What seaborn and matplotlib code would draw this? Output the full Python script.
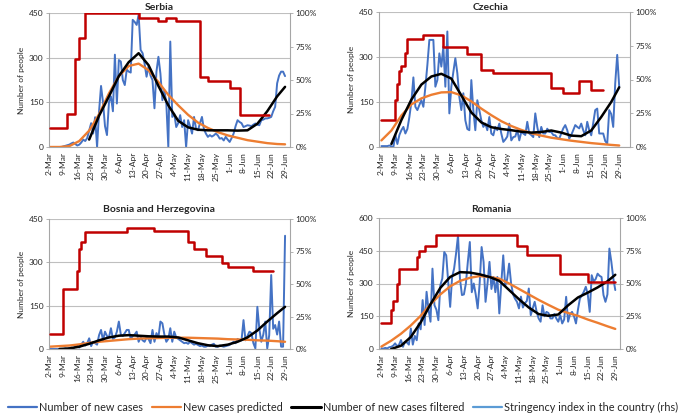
import numpy as np
import pandas as pd
import seaborn as sns
import matplotlib.pyplot as plt
from matplotlib.lines import Line2D
from matplotlib.ticker import FuncFormatter

sns.set_style("white")
plt.rcParams['font.family'] = ['Lato', 'DejaVu Sans']

nan = np.nan

# daily axis: 2-Mar .. 29-Jun 2020 (120 days)
days = list(range(120))
week_ticks = list(range(0, 120, 7))
week_labels = ["2-Mar", "9-Mar", "16-Mar", "23-Mar", "30-Mar", "6-Apr", "13-Apr", "20-Apr",
               "27-Apr", "4-May", "11-May", "18-May", "25-May", "1-Jun", "8-Jun", "15-Jun",
               "22-Jun", "29-Jun"]
smooth_days = [0, 5, 10, 15, 20, 25, 30, 35, 40, 45, 50, 55, 60, 65, 70, 75, 80, 85, 90, 95,
               100, 105, 110, 115, 119]

# ---- Serbia
serbia_cases = [0, 0, 0, 0, 0, 0, 0, 2, 4, 6,
                8, 12, 15, 10, 5, 8, 15, 25, 20, 30,
                55, 80, 45, 100, 0, 120, 205, 150, 70, 40,
                150, 170, 120, 310, 146, 292, 287, 225, 208, 260,
                253, 250, 427, 420, 410, 444, 326, 315, 280, 236,
                270, 240, 225, 130, 253, 303, 247, 157, 191, 146,
                0, 354, 101, 112, 67, 80, 107, 67, 90, 0,
                90, 70, 45, 101, 62, 56, 80, 101, 60, 45,
                34, 40, 35, 39, 45, 39, 28, 30, 22, 34,
                25, 17, 30, 45, 70, 90, 84, 80, 67, 70,
                73, 72, 70, 75, 79, 75, 73, 90, 92, 96,
                96, 98, 101, 120, 135, 214, 240, 253, 253, 238]
serbia_pred = [0, 0, 3, 20, 55, 110, 180, 238, 272, 280, 258, 218, 175, 140, 108, 82, 64, 50,
               39, 31, 23, 18, 13, 10, 9]
serbia_filt = [nan, nan, nan, nan, 25, 105, 170, 238, 285, 315, 275, 205, 140, 88, 66, 58, 56,
               56, 56, 55, 56, 78, 120, 170, 202]
serbia_str_days = [0, 9, 13, 15, 18, 45, 55, 59, 64, 76, 80, 91, 96, 111]
serbia_str = [14, 25, 66, 81, 100, 96, 94, 96, 94, 52, 49, 44, 24, 24]

# ---- Czechia
czechia_cases = [3, 3, 3, 3, 5, 2, 0, 40, 10, 40,
                 56, 67, 45, 60, 100, 150, 232, 134, 123, 140,
                 156, 134, 200, 273, 357, 357, 357, 201, 223, 312,
                 268, 335, 201, 385, 112, 201, 250, 296, 246, 167,
                 123, 179, 89, 60, 56, 223, 123, 56, 156, 123,
                 89, 67, 78, 56, 100, 45, 39, 67, 56, 78,
                 45, 17, 25, 35, 78, 22, 33, 35, 56, 22,
                 50, 45, 40, 84, 45, 40, 33, 112, 67, 33,
                 67, 45, 45, 61, 50, 50, 40, 39, 30, 28,
                 45, 62, 73, 56, 28, 40, 56, 73, 67, 62,
                 78, 56, 39, 84, 56, 39, 80, 123, 128, 45,
                 45, 45, 20, 11, 123, 110, 67, 212, 307, 201]
czechia_pred = [22, 55, 105, 142, 162, 174, 182, 183, 172, 152, 128, 106, 86, 70, 57, 46, 38,
                31, 26, 21, 17, 13, 10, 7, 5]
czechia_filt = [nan, 10, 90, 158, 208, 235, 244, 228, 172, 115, 82, 66, 60, 56, 51, 48, 50, 55,
                48, 38, 36, 55, 100, 150, 199]
czechia_str_days = [0, 7, 8, 9, 10, 12, 13, 21, 31, 43, 50, 56, 85, 91, 99, 105, 111]
czechia_str = [20, 35, 47, 56, 60, 70, 80, 83, 74, 69, 57, 55, 44, 40, 49, 42, 42]

# ---- Bosnia and Herzegovina
bosnia_cases = [0, 0, 0, 0, 0, 0, 0, 0, 2, 0,
                3, 5, 2, 8, 10, 5, 15, 25, 12, 20,
                37, 10, 25, 20, 15, 48, 66, 30, 60, 45,
                40, 72, 35, 40, 60, 95, 50, 45, 55, 66,
                66, 35, 45, 50, 60, 25, 40, 30, 25, 40,
                35, 20, 66, 25, 55, 40, 95, 89, 50, 25,
                35, 72, 25, 60, 40, 35, 30, 25, 20, 22,
                18, 25, 20, 15, 18, 14, 10, 12, 8, 8,
                12, 10, 15, 18, 8, 8, 12, 10, 8, 10,
                12, 14, 20, 25, 20, 35, 30, 30, 100, 30,
                45, 60, 55, 20, 2, 146, 70, 25, 50, 95,
                2, 48, 256, 70, 83, 50, 95, 8, 8, 392]
bosnia_pred = [8, 10, 12, 16, 21, 25, 28, 31, 34, 36, 37, 38, 39, 39, 39, 38, 37, 36, 34, 33,
               32, 30, 29, 27, 25]
bosnia_filt = [nan, 0, 2, 8, 18, 30, 40, 46, 48, 46, 44, 43, 43, 40, 30, 20, 13, 10, 15, 25,
               40, 64, 95, 124, 146]
bosnia_str_days = [0, 7, 14, 15, 16, 18, 39, 53, 70, 73, 79, 87, 90, 103, 113]
bosnia_str = [11.5, 46, 60, 77, 82, 90, 93, 91, 82, 77, 71.5, 66, 63, 60, 60]

# ---- Romania
romania_cases = [3, 2, 5, 3, 8, 10, 15, 26, 12, 20,
                 41, 10, 33, 30, 20, 94, 20, 60, 40, 117,
                 90, 224, 110, 262, 180, 125, 368, 201, 180, 132,
                 292, 323, 444, 429, 307, 193, 330, 368, 437, 520,
                 320, 247, 250, 300, 400, 490, 260, 300, 250, 186,
                 300, 467, 399, 216, 300, 399, 275, 330, 260, 330,
                 163, 300, 429, 290, 320, 391, 300, 250, 230, 216,
                 186, 240, 190, 210, 220, 277, 155, 186, 216, 170,
                 140, 125, 200, 150, 170, 165, 140, 140, 160, 140,
                 125, 155, 117, 135, 239, 125, 160, 170, 150, 117,
                 180, 231, 246, 262, 285, 250, 170, 338, 310, 320,
                 345, 335, 330, 247, 216, 250, 460, 399, 323, 270]
romania_pred = [11, 38, 70, 108, 152, 205, 250, 287, 312, 326, 334, 330, 322, 300, 275, 250,
                225, 202, 180, 165, 152, 135, 120, 104, 92]
romania_filt = [nan, 0, 15, 55, 122, 205, 280, 330, 352, 350, 342, 330, 312, 270, 228, 190,
                160, 152, 158, 200, 236, 258, 282, 310, 340]
romania_str_days = [0, 5, 6, 8, 9, 18, 19, 22, 28, 69, 74, 91, 105, 119]
romania_str = [19.5, 30, 37, 50, 61, 70, 75, 79, 87, 79, 72, 57, 51, 51]

C_CASES = "#4472C4"
C_PRED = "#ED7D31"
C_FILT = "black"
C_STR = "#C00000"
C_STR_LEG = "#5B9BD5"
GRID = "#BFBFBF"
SPINE = "#A6A6A6"

W, H = 685, 417

panels = [
    dict(title="Serbia", box=(49, 13, 290, 147), tpos=(159, 7), xlim=(-0.3, 121.5),
         yticks=[0, 150, 300, 450], cases=serbia_cases, pred=serbia_pred, filt=serbia_filt,
         sdays=serbia_str_days, svals=serbia_str),
    dict(title="Czechia", box=(379, 12, 630, 147), tpos=(491, 7), xlim=(-1.2, 124.4),
         yticks=[0, 150, 300, 450], cases=czechia_cases, pred=czechia_pred, filt=czechia_filt,
         sdays=czechia_str_days, svals=czechia_str),
    dict(title="Bosnia and Herzegovina", box=(49, 219, 290, 349), tpos=(159, 210),
         xlim=(-0.3, 121.5), yticks=[0, 150, 300, 450], cases=bosnia_cases, pred=bosnia_pred,
         filt=bosnia_filt, sdays=bosnia_str_days, svals=bosnia_str),
    dict(title="Romania", box=(379, 218, 620, 349), tpos=(491, 210), xlim=(-1.2, 121.4),
         yticks=[0, 150, 300, 450, 600], cases=romania_cases, pred=romania_pred,
         filt=romania_filt, sdays=romania_str_days, svals=romania_str),
]

fig = plt.figure(figsize=(W / 100, H / 100), dpi=100)

for p in panels:
    x0, y0, x1, y1 = p["box"]
    ax = fig.add_axes([x0 / W, 1 - y1 / H, (x1 - x0) / W, (y1 - y0) / H])
    ax2 = ax.twinx()

    sns.lineplot(x=days, y=p["cases"], ax=ax, color=C_CASES, lw=1.4, estimator=None, legend=False)
    sns.lineplot(x=smooth_days, y=p["pred"], ax=ax, color=C_PRED, lw=1.7, estimator=None, legend=False)
    sns.lineplot(x=smooth_days, y=p["filt"], ax=ax, color=C_FILT, lw=1.8, estimator=None, legend=False)
    sns.lineplot(x=p["sdays"], y=p["svals"], ax=ax2, color=C_STR, lw=1.8, estimator=None,
                 legend=False, drawstyle="steps-post")

    ax.set_xlim(*p["xlim"])
    ax.set_ylim(p["yticks"][0], p["yticks"][-1])
    ax.set_yticks(p["yticks"])
    ax.set_xticks(week_ticks)
    ax.set_xticklabels(week_labels, rotation=90)
    ax.set_ylabel("Number of people", fontsize=6, labelpad=3)
    ax.set_xlabel("")
    ax.yaxis.grid(True, color=GRID, lw=0.8)
    ax.set_axisbelow(True)

    ax2.set_ylim(0, 100)
    ax2.set_yticks([0, 25, 50, 75, 100])
    ax2.yaxis.set_major_formatter(FuncFormatter(lambda v, _: f"{v:.0f}%"))
    ax2.set_ylabel("")

    for a in (ax, ax2):
        a.tick_params(labelsize=6, length=2.5, width=0.6, color=SPINE, pad=1.5)
        a.spines["top"].set_visible(False)
        for s in ("left", "right", "bottom"):
            a.spines[s].set_color(SPINE)
            a.spines[s].set_linewidth(0.8)
    ax.spines["right"].set_visible(False)
    ax2.spines["left"].set_visible(False)
    ax2.spines["bottom"].set_visible(False)
    ax.tick_params(axis="x", pad=1)

    fig.text(p["tpos"][0] / W, 1 - p["tpos"][1] / H, p["title"], ha="center", va="center",
             fontsize=7.5, fontweight="bold")

handles = [Line2D([], [], color=C_CASES, lw=1.6),
           Line2D([], [], color=C_PRED, lw=1.6),
           Line2D([], [], color=C_FILT, lw=2.2),
           Line2D([], [], color=C_STR_LEG, lw=1.6)]
labels = ["Number of new cases", "New cases predicted", "Number of new cases filtered",
          "Stringency index in the country (rhs)"]
fig.legend(handles, labels, loc="center", bbox_to_anchor=(343 / W, 1 - 407 / H), ncol=4,
           frameon=False, fontsize=7.8, handlelength=2.7, handletextpad=0.2, columnspacing=0.8,
           borderpad=0, borderaxespad=0)

fig.savefig("out.png", dpi=100)
